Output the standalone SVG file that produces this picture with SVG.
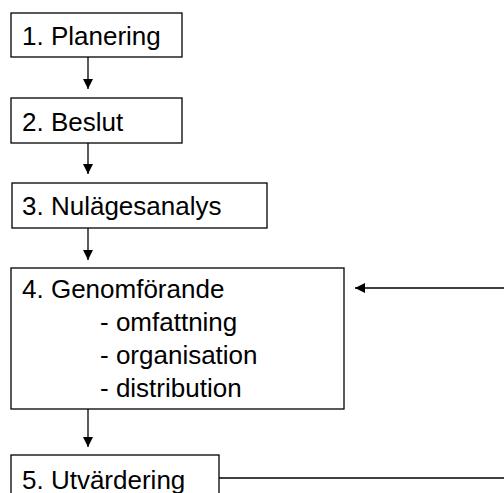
<svg xmlns="http://www.w3.org/2000/svg" width="504" height="493" viewBox="0 0 504 493">
<defs>
<marker id="ah" markerWidth="10" markerHeight="10" refX="10" refY="5" orient="auto" markerUnits="userSpaceOnUse">
<path d="M0,0 L10,5 L0,10 Z" fill="#000"/>
</marker>
<style>
.box{fill:#fff;stroke:#000;stroke-width:1.3}
.t{font-family:"Liberation Sans",Arial,sans-serif;font-size:26px;fill:#000}
.c{stroke:#000;stroke-width:1.3;fill:none}
</style>
</defs>
<rect width="504" height="493" fill="#fff"/>
<g id="connectors">
<line class="c" x1="88" y1="57" x2="88" y2="89" marker-end="url(#ah)"/>
<line class="c" x1="88" y1="143" x2="88" y2="174" marker-end="url(#ah)"/>
<line class="c" x1="88" y1="228" x2="88" y2="260" marker-end="url(#ah)"/>
<line class="c" x1="88" y1="409" x2="88" y2="447" marker-end="url(#ah)"/>
<line class="c" x1="504" y1="288" x2="355" y2="288" marker-end="url(#ah)"/>
<line class="c" x1="219" y1="478" x2="504" y2="478"/>
</g>
<g id="n1">
<rect class="box" x="11" y="13" width="171" height="44"/>
<text class="t" x="22" y="45">1. Planering</text>
</g>
<g id="n2">
<rect class="box" x="11" y="98" width="171" height="45"/>
<text class="t" x="22" y="131">2. Beslut</text>
</g>
<g id="n3">
<rect class="box" x="12" y="183" width="255" height="45"/>
<text class="t" x="22" y="215">3. Nulägesanalys</text>
</g>
<g id="n4">
<rect class="box" x="11" y="268" width="333" height="141"/>
<text class="t" x="22" y="298">4. Genomförande</text>
<text class="t" x="100" y="331">- omfattning</text>
<text class="t" x="100" y="364">- organisation</text>
<text class="t" x="100" y="397">- distribution</text>
</g>
<g id="n5">
<rect class="box" x="11" y="455" width="208" height="50"/>
<text class="t" x="22" y="489">5. Utvärdering</text>
</g>
</svg>
